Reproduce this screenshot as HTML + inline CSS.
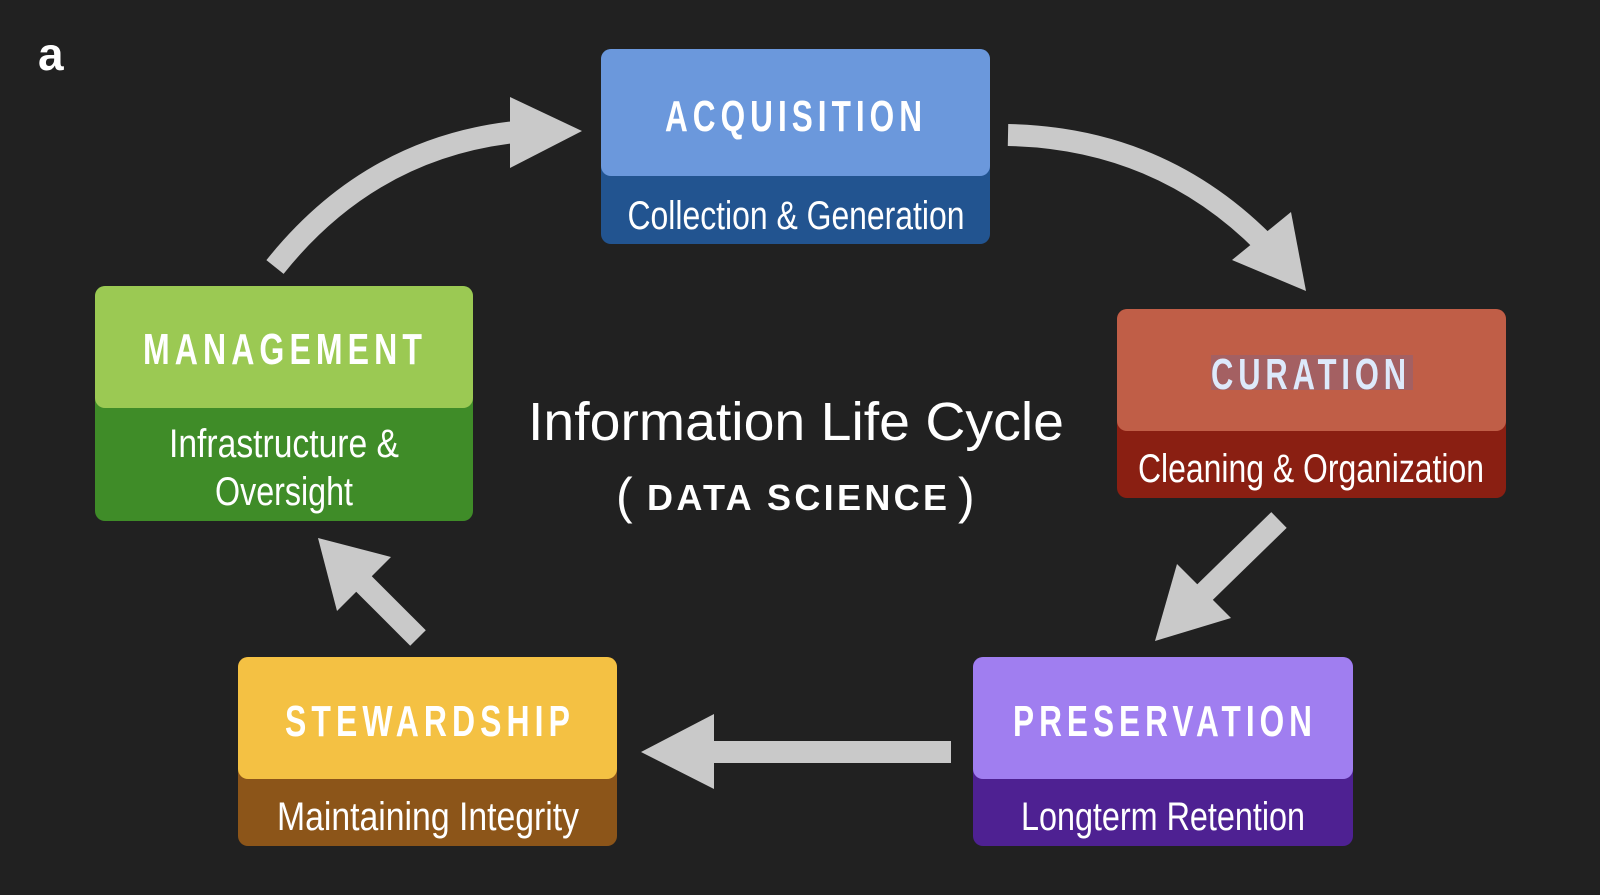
<!DOCTYPE html>
<html><head><meta charset="utf-8"><style>
html,body{margin:0;padding:0;background:#212121;}
svg{display:block}
text{font-family:"Liberation Sans Narrow","Liberation Sans",sans-serif;}
.h{font-family:"Liberation Sans",sans-serif;font-weight:bold;font-size:44px;letter-spacing:7px;}
</style></head><body>
<svg width="1600" height="895" viewBox="0 0 1600 895" xmlns="http://www.w3.org/2000/svg">
<rect width="1600" height="895" fill="#212121"/>
<text x="38" y="70" font-family="Liberation Sans" font-weight="bold" font-size="46" fill="#fff">a</text>

<g fill="#c9c9c9" stroke="none">
  <path d="M275,267 Q370,148 515,132" fill="none" stroke="#c9c9c9" stroke-width="22"/>
  <polygon points="582,131 510,97 510,168"/>
  <path d="M1008,135 Q1160,138 1265,244" fill="none" stroke="#c9c9c9" stroke-width="22"/>
  <polygon points="1306,291 1232,260 1291,212"/>
  <line x1="1279" y1="520" x2="1200" y2="597" stroke="#c9c9c9" stroke-width="22"/>
  <polygon points="1155,641 1231,618 1177,564"/>
  <rect x="708" y="741" width="243" height="22"/>
  <polygon points="641,752 714,714 714,789"/>
  <line x1="418" y1="638" x2="360" y2="580" stroke="#c9c9c9" stroke-width="22"/>
  <polygon points="318,538 391,557 337,611"/>
</g>

<rect x="601" y="49" width="389" height="195" rx="10" fill="#225490"/>
<rect x="601" y="49" width="389" height="127" rx="10" fill="#6b98dc"/>
<text class="h" x="665" y="131" fill="#fff" textLength="262" lengthAdjust="spacingAndGlyphs">ACQUISITION</text>
<text x="796" y="229" text-anchor="middle" font-size="40" fill="#fff" textLength="337" lengthAdjust="spacingAndGlyphs">Collection &amp; Generation</text>

<rect x="95" y="286" width="378" height="235" rx="10" fill="#3f8c28"/>
<rect x="95" y="286" width="378" height="122" rx="10" fill="#9bc953"/>
<text class="h" x="143" y="364" fill="#fff" textLength="284" lengthAdjust="spacingAndGlyphs">MANAGEMENT</text>
<text x="284" y="457" text-anchor="middle" font-size="40" fill="#fff" textLength="230" lengthAdjust="spacingAndGlyphs">Infrastructure &amp;</text>
<text x="284" y="505" text-anchor="middle" font-size="40" fill="#fff" textLength="138" lengthAdjust="spacingAndGlyphs">Oversight</text>

<rect x="1117" y="309" width="389" height="189" rx="10" fill="#8a1f12"/>
<rect x="1117" y="309" width="389" height="122" rx="10" fill="#c05e47"/>
<rect x="1211" y="355" width="202" height="35" fill="#a46062"/>
<text class="h" x="1211" y="389" fill="#dde9fb" textLength="200" lengthAdjust="spacingAndGlyphs">CURATION</text>
<text x="1311" y="482" text-anchor="middle" font-size="40" fill="#fff" textLength="346" lengthAdjust="spacingAndGlyphs">Cleaning &amp; Organization</text>

<rect x="238" y="657" width="379" height="189" rx="10" fill="#8c5519"/>
<rect x="238" y="657" width="379" height="122" rx="10" fill="#f4c143"/>
<text class="h" x="285" y="736" fill="#fff" textLength="290" lengthAdjust="spacingAndGlyphs">STEWARDSHIP</text>
<text x="428" y="830" text-anchor="middle" font-size="40" fill="#fff" textLength="302" lengthAdjust="spacingAndGlyphs">Maintaining Integrity</text>

<rect x="973" y="657" width="380" height="189" rx="10" fill="#4e2192"/>
<rect x="973" y="657" width="380" height="122" rx="10" fill="#a07ef0"/>
<text class="h" x="1013" y="736" fill="#fff" textLength="304" lengthAdjust="spacingAndGlyphs">PRESERVATION</text>
<text x="1163" y="830" text-anchor="middle" font-size="40" fill="#fff" textLength="284" lengthAdjust="spacingAndGlyphs">Longterm Retention</text>

<text x="796" y="440" text-anchor="middle" font-family="Liberation Sans" font-size="54" fill="#fff" textLength="536" lengthAdjust="spacingAndGlyphs">Information Life Cycle</text>
<text x="616" y="513" font-family="Liberation Sans" font-size="50" fill="#fff">(</text>
<text x="647" y="510" font-family="Liberation Sans" font-weight="bold" font-size="36" fill="#fff" textLength="300" lengthAdjust="spacing">DATA SCIENCE</text>
<text x="958" y="513" font-family="Liberation Sans" font-size="50" fill="#fff">)</text>
</svg>
</body></html>
